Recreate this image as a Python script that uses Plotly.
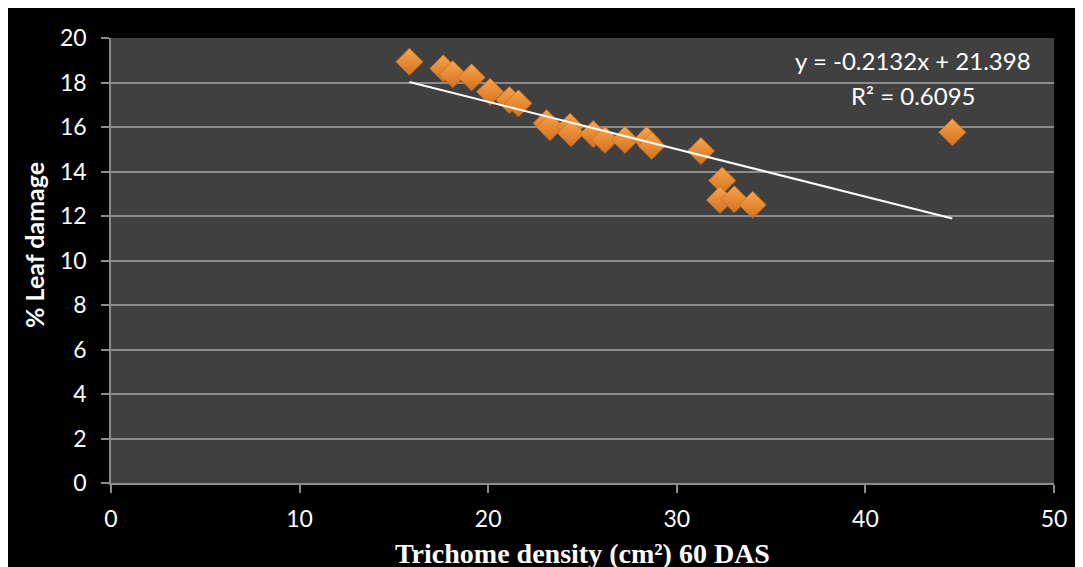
import plotly.graph_objects as go

# trichome density (cm2) at 60 DAS vs % leaf damage
trichome = [15.82, 17.62, 18.12, 19.12, 20.1, 21.12, 21.6, 23.1, 23.28, 24.34, 24.39,
            25.57, 26.19, 27.25, 28.4, 28.67, 31.28, 32.41, 32.29, 33.05, 34.02, 44.61]
damage = [18.93, 18.63, 18.37, 18.23, 17.58, 17.21, 17.06, 16.17, 15.99, 16.01, 15.72,
          15.68, 15.42, 15.42, 15.42, 15.15, 14.92, 13.59, 12.72, 12.75, 12.50, 15.76]

slope = -0.2132
intercept = 21.398
r2 = 0.6095

x_ticks = [0, 10, 20, 30, 40, 50]
y_ticks = [0, 2, 4, 6, 8, 10, 12, 14, 16, 18, 20]

trend_x = [min(trichome), max(trichome)]
trend_y = [slope * v + intercept for v in trend_x]

W, H = 1083, 567
OFF = 8  # page body margin
L, R, T, B = 103, 37, 30, 92
pw, ph = W - L - R, H - T - B

# screen pixel -> paper coords
def px(xs):
    return (xs - OFF - L) / pw

def py(ys):
    return (H - B - (ys - OFF)) / ph

tick_font = dict(family="Lato, Calibri, sans-serif", size=23, color="white")
note_font = dict(family="Lato, Calibri, sans-serif", size=24, color="white")

fig = go.Figure()
fig.add_trace(go.Scatter(
    x=trichome, y=damage, mode="markers",
    marker=dict(symbol="diamond", size=21, color="#F8A54F",
                gradient=dict(type="vertical", color="#D2701C"),
                line=dict(width=0.6, color="#B8621A")),
    showlegend=False))
fig.add_trace(go.Scatter(
    x=trend_x, y=trend_y, mode="lines",
    line=dict(color="white", width=2), showlegend=False))

fig.update_xaxes(range=[0, 50], tickvals=x_ticks, showgrid=False, zeroline=False,
                 showline=True, linecolor="#8C8C8C", linewidth=1.5,
                 ticks="outside", ticklen=8, tickcolor="#8C8C8C", tickwidth=1.5,
                 tickfont=tick_font, ticklabelstandoff=7)
fig.update_yaxes(range=[0, 20], tickvals=y_ticks, showgrid=True, gridcolor="#8C8C8C",
                 gridwidth=1.5, zeroline=False,
                 showline=True, linecolor="#8C8C8C", linewidth=1.5,
                 ticks="outside", ticklen=8, tickcolor="#8C8C8C", tickwidth=1.5,
                 tickfont=tick_font, ticklabelstandoff=10)

fig.add_annotation(x=px(913), y=py(61), xref="paper", yref="paper", showarrow=False,
                   text=f"y = {slope}x + {intercept}", font=note_font,
                   xanchor="center", yanchor="middle")
fig.add_annotation(x=px(913), y=py(95), xref="paper", yref="paper", showarrow=False,
                   text=f"R² = {r2}", font=note_font,
                   xanchor="center", yanchor="middle")
fig.add_annotation(x=px(34), y=py(245), xref="paper", yref="paper", showarrow=False,
                   text="<b>% Leaf damage</b>", textangle=-90,
                   font=dict(family="Lato, Calibri, sans-serif", size=25, color="white"),
                   xanchor="center", yanchor="middle")
fig.add_annotation(x=0.5, y=py(553), xref="paper", yref="paper", showarrow=False,
                   text="<b>Trichome density (cm²) 60 DAS</b>",
                   font=dict(family="Liberation Serif, Times New Roman, serif", size=28, color="white"),
                   xanchor="center", yanchor="middle")

fig.update_layout(width=W, height=H, margin=dict(l=L, r=R, t=T, b=B),
                  paper_bgcolor="black", plot_bgcolor="#404040")

fig.write_html("out.html")
